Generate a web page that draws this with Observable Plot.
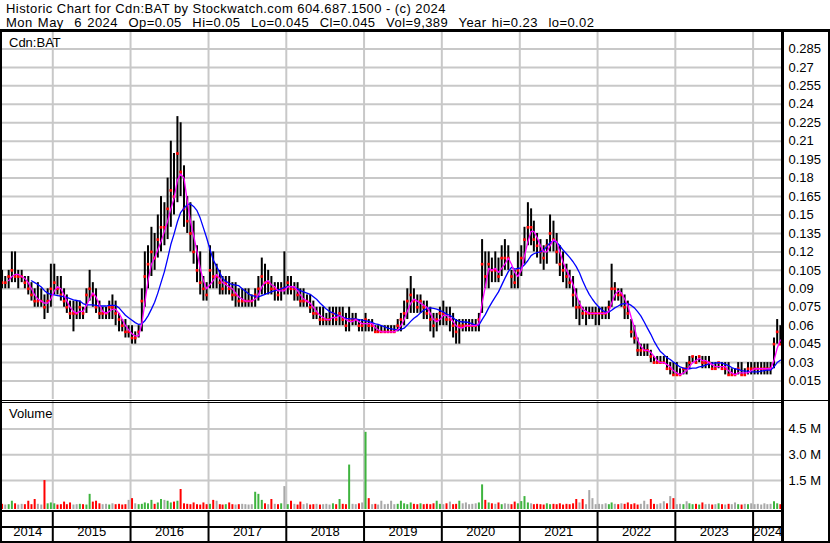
<!DOCTYPE html>
<html><head><meta charset="utf-8">
<script src="https://cdn.jsdelivr.net/npm/d3@7"></script>
<script src="https://cdn.jsdelivr.net/npm/@observablehq/plot@0.6"></script>
<style>
body{margin:0;background:#fff;}
#wrap{position:relative;width:830px;height:543px;overflow:hidden;font-family:Arial,"Liberation Sans",sans-serif;color:#000;background:#fff;}
.t{position:absolute;white-space:pre;line-height:normal;}
.p{position:absolute;}
.ln{position:absolute;background:#000;z-index:5;}
</style></head><body><div id="wrap"></div>
<script>
// ---- header texts ----
const titleLine = "Historic Chart for Cdn:BAT by Stockwatch.com 604.687.1500 - (c) 2024";
const infoLine = "Mon May  6 2024  Op=0.05  Hi=0.05  Lo=0.045  Cl=0.045  Vol=9,389  Year hi=0.23  lo=0.02";
const symbolLabel = "Cdn:BAT";
const volumeLabel = "Volume";

// ---- tick values / labels ----
const priceTicks = [0.015,0.03,0.045,0.06,0.075,0.09,0.105,0.12,0.135,0.15,0.165,0.18,0.195,0.21,0.225,0.24,0.255,0.27,0.285];
const volTicks = [1.5, 3.0, 4.5]; // millions
const yearLabels = [2014,2015,2016,2017,2018,2019,2020,2021,2022,2023,2024];

// ---- semi-monthly bars, May 2014 (1st half) .. May 2024 (1st half) ----
const hi = [
 .105,.1,.105,.12,.12,.105,.105,.1,.1,.095,.09,.095,.09,.085,.09,.11, // 2014
 .11,.1,.1,.09,.085,.08,.08,.08,.08,.075,.09,.105,.095,.09,.08,.075,.075,.08,.085,.08,.07,.065,.065,.06, // 2015
 .06,.055,.06,.09,.12,.125,.14,.135,.15,.165,.16,.18,.21,.2,.23,.225,.19,.165,.16,.145,.125,.12,.1,.095, // 2016
 .125,.12,.11,.105,.1,.1,.1,.095,.095,.09,.09,.09,.09,.085,.09,.1,.115,.11,.105,.1,.095,.095,.095,.12, // 2017
 .1,.1,.095,.095,.09,.09,.085,.085,.08,.075,.075,.075,.07,.075,.075,.075,.075,.075,.07,.075,.07,.07,.065,.065, // 2018
 .07,.065,.065,.06,.06,.06,.06,.06,.06,.06,.065,.07,.08,.09,.1,.09,.085,.085,.08,.08,.075,.07,.07,.075, // 2019
 .08,.075,.075,.07,.065,.065,.065,.065,.065,.065,.065,.07,.13,.12,.12,.115,.12,.115,.125,.13,.125,.105,.105,.12, // 2020
 .125,.14,.16,.155,.145,.135,.13,.125,.13,.15,.145,.135,.125,.12,.11,.105,.1,.09,.08,.075,.075,.075,.075,.075, // 2021
 .075,.075,.075,.08,.11,.095,.09,.09,.085,.08,.065,.06,.05,.045,.045,.045,.04,.035,.035,.035,.035,.035,.03,.03, // 2022
 .03,.025,.025,.03,.035,.035,.035,.035,.035,.035,.035,.03,.03,.03,.03,.03,.03,.025,.025,.03,.03,.025,.03,.03, // 2023
 .03,.03,.03,.03,.03,.03,.05,.065,.06 // 2024
];
const lo = [
 .09,.09,.09,.095,.095,.09,.095,.09,.085,.08,.075,.075,.075,.065,.07,.075,
 .085,.085,.08,.075,.07,.065,.055,.065,.065,.065,.07,.08,.075,.07,.065,.065,.065,.065,.065,.06,.055,.055,.05,.05,
 .045,.045,.05,.055,.075,.09,.1,.105,.115,.12,.125,.13,.14,.15,.16,.165,.14,.135,.12,.11,.095,.085,.08,.08,
 .09,.09,.09,.085,.085,.085,.085,.08,.075,.075,.075,.075,.075,.075,.075,.08,.085,.085,.085,.085,.08,.08,.08,.085,
 .085,.085,.08,.08,.075,.075,.075,.07,.065,.065,.06,.06,.06,.06,.06,.06,.06,.06,.055,.055,.06,.06,.055,.055,
 .055,.055,.055,.055,.055,.055,.055,.055,.055,.055,.055,.055,.06,.065,.07,.07,.07,.07,.065,.065,.055,.05,.055,.06,
 .06,.06,.055,.05,.045,.045,.055,.055,.055,.055,.055,.055,.07,.09,.09,.095,.095,.095,.1,.105,.105,.09,.09,.09,
 .1,.11,.125,.125,.12,.115,.11,.105,.11,.12,.12,.11,.1,.095,.09,.09,.075,.065,.06,.065,.06,.065,.065,.06,
 .06,.065,.065,.065,.075,.08,.08,.075,.065,.065,.05,.045,.035,.035,.035,.035,.03,.03,.03,.03,.03,.025,.02,.02,
 .02,.02,.02,.02,.025,.03,.03,.03,.025,.025,.025,.025,.025,.025,.025,.02,.02,.02,.02,.02,.02,.02,.02,.02,
 .02,.02,.02,.02,.02,.02,.025,.045,.045
];
const close = [
 .095,.095,.1,.105,.1,.1,.1,.095,.09,.085,.08,.08,.08,.075,.08,.09,
 .095,.09,.085,.08,.075,.07,.07,.07,.075,.07,.085,.09,.085,.075,.07,.07,.07,.075,.075,.07,.065,.06,.055,.055,
 .05,.05,.055,.08,.1,.11,.12,.115,.13,.14,.14,.155,.17,.165,.2,.185,.155,.145,.135,.12,.105,.095,.09,.085,
 .105,.1,.1,.095,.09,.095,.09,.085,.085,.08,.08,.08,.08,.08,.085,.09,.1,.095,.095,.09,.09,.085,.09,.09,
 .095,.09,.09,.085,.08,.08,.08,.075,.07,.07,.065,.065,.065,.065,.07,.065,.07,.065,.06,.065,.065,.065,.06,.06,
 .065,.06,.06,.055,.055,.055,.055,.055,.055,.055,.06,.065,.07,.08,.085,.08,.075,.08,.075,.07,.065,.06,.065,.07,
 .07,.065,.065,.06,.055,.06,.06,.06,.06,.06,.06,.065,.11,.1,.11,.105,.105,.1,.115,.115,.115,.1,.095,.105,
 .115,.13,.14,.14,.13,.125,.12,.115,.125,.135,.13,.12,.11,.105,.1,.095,.085,.075,.075,.07,.07,.07,.07,.07,
 .07,.07,.07,.075,.09,.09,.085,.085,.075,.07,.055,.05,.04,.04,.04,.04,.035,.03,.03,.03,.03,.025,.025,.02,
 .02,.02,.025,.025,.03,.035,.03,.035,.03,.03,.03,.025,.025,.03,.025,.025,.02,.02,.02,.025,.02,.02,.025,.025,
 .025,.025,.025,.025,.025,.025,.045,.055,.045
];
const vol = [ // millions of shares
 .12,.08,.1,.3,.15,.08,.12,.1,.3,.1,.4,.12,.08,1.5,.15,.2,
 .15,.08,.1,.25,.1,.2,.08,.1,.12,.1,.08,.7,.25,.3,.15,.1,.12,.08,.15,.1,.12,.08,.1,.35,
 .45,.15,.1,.12,.2,.15,.35,.12,.2,.4,.35,.3,.2,.25,.3,.98,.15,.12,.1,.2,.1,.08,.2,.1,
 .12,.35,.3,.1,.08,.1,.2,.1,.08,.1,.12,.1,.08,.1,.82,.7,.35,.15,.1,.4,.12,.1,.15,1.15,
 .1,.3,.12,.08,.25,.1,.15,.08,.1,.12,.08,.1,.12,.08,.15,.1,.4,.12,.1,2.4,.12,.1,.15,.2,
 4.3,.45,.1,.12,.08,.3,.1,.12,.3,.1,.12,.3,.15,.1,.2,.12,.1,.15,.1,.12,.1,.15,.3,.12,
 .1,.15,.25,.1,.12,.3,.15,.2,.1,.12,.15,.2,1.25,.35,.2,.15,.12,.2,.1,.15,.12,.1,.25,.15,
 .28,.57,.2,.15,.1,.12,.1,.08,.15,.1,.12,.1,.15,.08,.12,.1,.15,.4,.2,.4,.1,.92,.45,.1,
 .12,.1,.15,.1,.2,.12,.1,.15,.12,.2,.1,.15,.08,.12,.3,.1,.4,.12,.1,.15,.27,.15,.57,.45,
 .1,.12,.1,.27,.15,.1,.12,.08,.2,.1,.12,.08,.1,.15,.1,.08,.12,.1,.2,.1,.08,.12,.1,.15,
 .1,.12,.08,.15,.1,.12,.27,.15,.1
];

// period dates (1st half ~ day 8, 2nd half ~ day 23)
const periods = [];
for (let y = 2014; y <= 2024; y++) for (let m = 0; m < 12; m++) for (let h = 0; h < 2; h++) {
  const d = new Date(Date.UTC(y, m, h ? 23 : 8));
  if (d >= new Date(Date.UTC(2014, 4, 1)) && d <= new Date(Date.UTC(2024, 4, 10))) periods.push(d);
}
const data = periods.map((date, i) => ({
  date, hi: hi[i], lo: lo[i], close: close[i], vol: vol[i],
  dir: i === 0 ? -1 : Math.sign(close[i] - close[i - 1])
}));

const xDomain = [new Date(Date.UTC(2014, 4, 10)), new Date(Date.UTC(2024, 4, 18))];
const yearStarts = yearLabels.slice(1).map(y => new Date(Date.UTC(y, 0, 1)));
const yearMid = y => {
  const a = Math.max(+new Date(Date.UTC(y, 0, 1)), +xDomain[0]);
  const b = Math.min(+new Date(Date.UTC(y + 1, 0, 1)), +xDomain[1]);
  return new Date((a + b) / 2);
};

const GRID = "#c8c8c8";
const VBASE = -0.18;
const common = {
  width: 830, marginLeft: 2, marginRight: 48, marginTop: 0,
  x: {type: "utc", domain: xDomain, axis: null},
  style: {fontFamily: "Arial, 'Liberation Sans', sans-serif", fontSize: "13px", background: "transparent", overflow: "visible", color: "#000"}
};
const fmtP = d => String(+d.toFixed(3));

const price = Plot.plot({
  ...common, height: 370, marginBottom: 2,
  y: {domain: [0, 0.2992], axis: null},
  marks: [
    Plot.ruleY(priceTicks, {stroke: GRID, strokeWidth: 2}),
    Plot.ruleX(yearStarts, {stroke: GRID, strokeWidth: 2}),
    Plot.ruleX(data, {x: "date", y1: "lo", y2: "hi", stroke: "#000", strokeWidth: 2}),
    Plot.dot(data, {x: "date", y: "close", symbol: "square", r: 1.5, fill: "#ff0000", stroke: null}),
    Plot.lineY(data, Plot.windowY({k: 10, anchor: "end", strict: true, reduce: "mean"}, {x: "date", y: "close", stroke: "#0000ff", strokeWidth: 1.3})),
    Plot.lineY(data, Plot.windowY({k: 3, anchor: "end", strict: true, reduce: "mean"}, {x: "date", y: "close", stroke: "#ff00ff", strokeWidth: 1.3})),
    Plot.axisY(priceTicks, {anchor: "right", tickSize: 0, tickPadding: 6, fontSize: 13, tickFormat: fmtP, label: null})
  ]
});

const volume = Plot.plot({
  ...common, height: 110, marginBottom: 2,
  y: {domain: [VBASE, 6.09], axis: null},
  color: {type: "identity"},
  marks: [
    Plot.ruleY(volTicks, {stroke: GRID, strokeWidth: 2}),
    Plot.ruleX(yearStarts, {stroke: GRID, strokeWidth: 2}),
    Plot.ruleX(data, {x: "date", y1: () => VBASE, y2: "vol", strokeWidth: 2,
      stroke: d => d.dir > 0 ? "#3fb43f" : d.dir < 0 ? "#ff0000" : "#a8a8a8"}),
    Plot.axisY(volTicks, {anchor: "right", tickSize: 0, tickPadding: 6, fontSize: 13, tickFormat: d => d.toFixed(1) + " M", label: null})
  ]
});

const years = Plot.plot({
  ...common, height: 32, marginBottom: 0,
  marks: [
    Plot.ruleX(yearStarts, {stroke: "#000", strokeWidth: 2}),
    Plot.text(yearLabels, {x: yearMid, text: d => String(d), frameAnchor: "bottom", dy: -8, fontSize: 13, fill: "#000"})
  ]
});

const wrap = document.getElementById("wrap");
function place(el, top) { const d = document.createElement("div"); d.className = "p"; d.style.left = "0px"; d.style.top = top + "px"; d.appendChild(el); wrap.appendChild(d); }
place(price, 31);
place(volume, 401);
place(years, 511);

function text(str, left, top, size, ls, ws) {
  const d = document.createElement("div"); d.className = "t"; d.textContent = str;
  d.style.left = left + "px"; d.style.top = top + "px"; d.style.fontSize = size + "px";
  if (ls) d.style.letterSpacing = ls + "px";
  if (ws) d.style.wordSpacing = ws + "px";
  wrap.appendChild(d);
}
text(titleLine, 6, 0.5, 13, 0.43);
text(infoLine, 6, 15, 13, 0.43, 1.25);
text(symbolLabel, 9, 35, 13);
text(volumeLabel, 9, 406, 13);

function line(l, t, w, h) { const d = document.createElement("div"); d.className = "ln"; Object.assign(d.style, {left: l + "px", top: t + "px", width: w + "px", height: h + "px"}); wrap.appendChild(d); }
line(0, 29, 830, 3);
line(0, 29, 2, 514);
line(828, 29, 2, 514);
line(781, 29, 3, 514);
line(0, 400, 781, 1);
line(0, 402, 781, 1);
line(784, 400, 44, 1);
line(0, 510, 781, 2);
line(0, 526, 781, 2);
line(0, 541, 830, 2);
</script>
</body></html>
